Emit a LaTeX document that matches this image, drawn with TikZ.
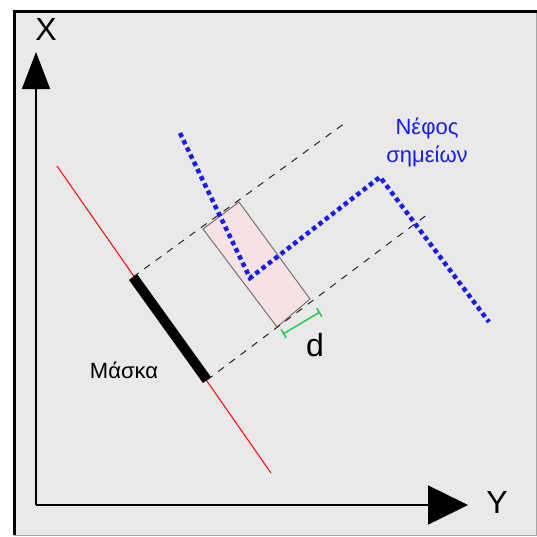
\documentclass[tikz,border=0pt]{standalone}
\usepackage{fontspec}
\setmainfont{Liberation Sans}
\usetikzlibrary{arrows.meta}
\definecolor{paper}{RGB}{234,232,233}
\definecolor{cloudblue}{RGB}{20,30,240}
\definecolor{slabfill}{RGB}{246,226,226}
\definecolor{dgreen}{RGB}{40,200,80}
\tikzset{
	font=\fontsize{22}{28}\selectfont,
	axis/.style={line width=1.5pt,-{Triangle[length=37pt,width=28pt]}},
	guide/.style={dashed,dash pattern=on 7pt off 7pt,line width=1pt,black!85},
	cloudline/.style={cloudblue,line width=4.5pt,dash pattern=on 4.5pt off 3.5pt},
	slab/.style={fill=slabfill,draw=black!55,line width=1pt},
	masktext/.style={black}
}
\begin{document}
\begin{tikzpicture}[x=1pt,y=-1pt]  % pixel-like units, y pointing down

\useasboundingbox (0,0) rectangle (537,536);

% frame
\fill[paper] (13,10) rectangle (537,536);
\draw[black!35,line width=1pt] (536,11) -- (536,535) -- (14,535);
\draw[line width=3pt] (14.5,535) -- (14.5,11) -- (537,11);

% axes
\coordinate (O) at (36,505);
\coordinate (Xtip) at (36,52);
\coordinate (Ytip) at (468,505);
\draw[axis,-{Triangle[length=37pt,width=28pt]}] (O) -- (Xtip);
\draw[axis,-{Triangle[length=40pt,width=39pt]}] (O) -- (Ytip);
\node (xlab) at (46,29) {\fontsize{32}{32}\selectfont X};
\node (ylab) at (497,502) {\fontsize{32}{32}\selectfont Y};

% red line and mask
\coordinate (r1) at (57,166);
\coordinate (r2) at (271,473);
\coordinate (m1) at (133,277);
\coordinate (m2) at (207,380);
\draw[red,line width=1pt] (r1) -- (r2);
\draw[line width=10pt] (m1) -- (m2);
\node[masktext] (mask) at (124,370) {Μάσκα};

% slab
\coordinate (sa) at (203,229);
\coordinate (sb) at (239,202);
\coordinate (sc) at (310,299);
\coordinate (sd) at (277,327);
\draw[slab] (sa) -- (sb) -- (sc) -- (sd) -- cycle;

% projection lines
\coordinate (p1) at (345,123);
\coordinate (p2) at (428,214);
\draw[guide] (m1) -- (p1);
\draw[guide] (m2) -- (p2);

% thickness d
\coordinate (g1) at (283,334);
\coordinate (g2) at (320,312);
\draw[dgreen,line width=1.5pt,{Bar[width=10pt]}-{Bar[width=10pt]}] (g1) -- (g2);
\node (dlab) at (315,345) {\fontsize{32}{32}\selectfont d};

% point cloud
\coordinate (c1) at (180,133);
\coordinate (c2) at (250,278);
\coordinate (c3) at (380,177);
\coordinate (c4) at (489,322);
\draw[cloudline] (c1) -- (c2) -- (c3) -- (c4);
\node[cloudblue,align=center] (cloud) at (427,142) {Νέφος\\σημείων};

\end{tikzpicture}
\end{document}
